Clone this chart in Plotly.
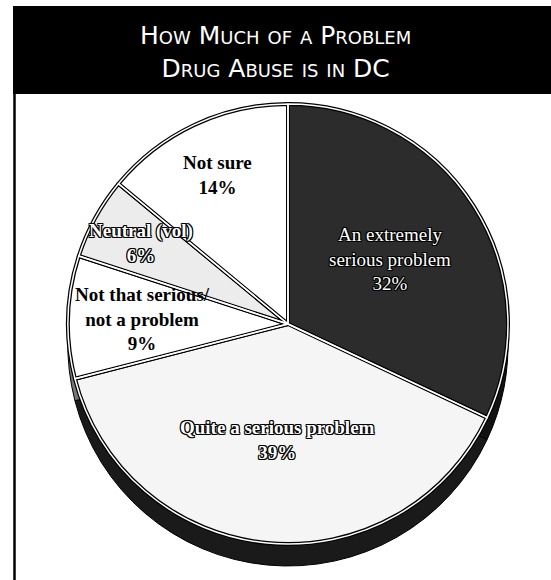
import math
import plotly.graph_objects as go

labels = ["An extremely<br>serious problem", "Quite a serious problem",
          "Not that serious/<br>not a problem", "Neutral (vol)", "Not sure"]
values = [32, 39, 9, 6, 14]
fill_colors = ["#2c2c2c", "#f5f5f5", "#ffffff", "#ececec", "#ffffff"]
side_colors = ["#111111", "#1a1a1a", "#777777", "#999999", "#999999"]
text_colors = ["white", "white", "black", "white", "black"]
text_weights = [400, 700, 700, 700, 700]
outlined = [True, True, False, True, False]
label_radius = [0.55, 0.53, 0.66, 0.76, 0.75]
title_lines = ["How Much of a Problem", "Drug Abuse is in DC"]

W, H = 551, 580
cx, cy, R = 288, 324, 220
depth = 22

def dom(cx, cy):
    return dict(x=[(cx - R) / W, (cx + R) / W], y=[1 - (cy + R) / H, 1 - (cy - R) / H])

outline = "1px 1px 0 #000, -1px -1px 0 #000, 1px -1px 0 #000, -1px 1px 0 #000, 0 1px 0 #000, 0 -1px 0 #000, 1px 0 0 #000, -1px 0 0 #000"

fig = go.Figure()
# 3D side (shadow pie)
fig.add_trace(go.Pie(values=values, sort=False, direction="clockwise", rotation=0,
                     domain=dom(cx, cy + depth), marker=dict(colors=side_colors, line=dict(color="black", width=1)),
                     textinfo="none", hoverinfo="skip", showlegend=False))
# top face
fig.add_trace(go.Pie(values=values, labels=labels, sort=False, direction="clockwise", rotation=0,
                     domain=dom(cx, cy),
                     marker=dict(colors=fill_colors, line=dict(color="black", width=4)),
                     textinfo="none", showlegend=False))
# white gap inside separators (double-line look)
fig.add_trace(go.Pie(values=values, sort=False, direction="clockwise", rotation=0,
                     domain=dom(cx, cy),
                     marker=dict(colors=["rgba(0,0,0,0)"] * len(values), line=dict(color="white", width=1.5)),
                     textinfo="none", hoverinfo="skip", showlegend=False))

# slice labels, placed at each slice's mid-angle
total = sum(values)
annotations = []
cum = 0
for lab, v, col, wt, ol, rf in zip(labels, values, text_colors, text_weights, outlined, label_radius):
    mid = (cum + v / 2) / total * 2 * math.pi
    cum += v
    px = cx + rf * R * math.sin(mid)
    py = cy - rf * R * math.cos(mid)
    annotations.append(dict(text=f"{lab}<br>{v}%", xref="paper", yref="paper", x=px / W, y=1 - py / H,
                            xanchor="center", yanchor="middle", showarrow=False, align="center",
                            font=dict(family="Liberation Serif", size=19, color=col, weight=wt,
                                      shadow=outline if ol else "none")))

annotations.append(dict(text="<br>".join(title_lines), xref="paper", yref="paper", x=0.5, y=1 - 52 / H,
                        xanchor="center", yanchor="middle", showarrow=False, align="center",
                        font=dict(family="DejaVu Sans", size=25, color="white", variant="small-caps")))

fig.update_layout(
    width=W, height=H, margin=dict(l=0, r=0, t=0, b=0),
    paper_bgcolor="white", plot_bgcolor="white",
    shapes=[
        dict(type="rect", xref="paper", yref="paper", x0=13 / W, x1=1, y0=1 - 94 / H, y1=1 - 6 / H,
             fillcolor="black", line=dict(width=0), layer="below"),
        dict(type="line", xref="paper", yref="paper", x0=14.5 / W, x1=14.5 / W, y0=0, y1=1 - 94 / H,
             line=dict(color="black", width=2.5)),
    ],
    annotations=annotations,
)
fig.write_html("out.html")
